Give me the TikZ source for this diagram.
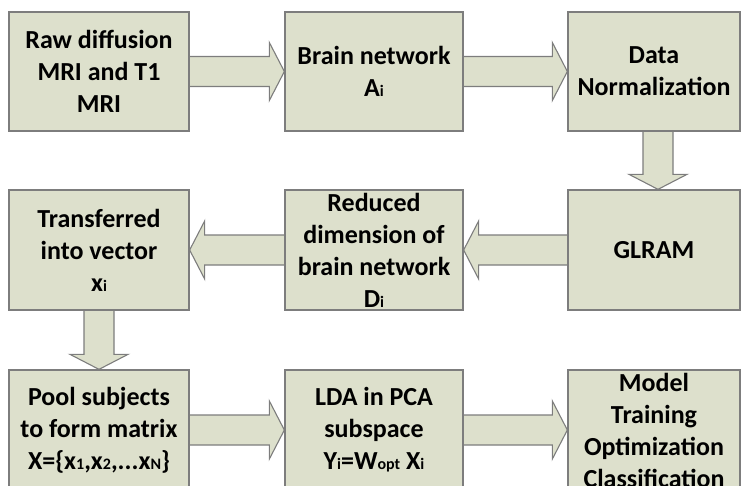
\documentclass[tikz,border=0pt]{standalone}
\usepackage{fontspec}
\setmainfont{Carlito}
\usetikzlibrary{calc,backgrounds}
\definecolor{sage}{RGB}{221,224,204}
\definecolor{edge}{RGB}{125,125,125}
\newcommand\idx[1]{{\fontsize{16}{16}\selectfont #1}}
\tikzset{
  box/.style={draw=edge,fill=sage,line width=1.3pt,inner sep=0pt,
    minimum width=#1,minimum height=119pt,align=center,
    font=\bfseries\fontsize{26}{32}\selectfont},
  box/.default=179pt,
  % outlined block arrow from start to target
  blockarrow/.style={draw=edge,fill=sage,line width=1.1pt,line join=miter,
    to path={
      ($(\tikztostart)!15pt!90:(\tikztotarget)$)
      -- ($($(\tikztotarget)!15pt!(\tikztostart)$)!15pt!-90:(\tikztostart)$)
      -- ($($(\tikztotarget)!15pt!(\tikztostart)$)!29pt!-90:(\tikztostart)$)
      -- (\tikztotarget)
      -- ($($(\tikztotarget)!15pt!(\tikztostart)$)!29pt!90:(\tikztostart)$)
      -- ($($(\tikztotarget)!15pt!(\tikztostart)$)!15pt!90:(\tikztostart)$)
      -- ($(\tikztostart)!15pt!-90:(\tikztotarget)$)
    }},
}
\begin{document}
\begin{tikzpicture}[x=1pt,y=-1pt]
  \useasboundingbox (0,0) rectangle (741,485);
  % first row
  \node[box=180pt] (raw) at (99,71.5) {Raw diffusion\\MRI and T1\\MRI};
  \node[box=178pt] (net) at (374,71.5) {Brain network\\A\idx{i}};
  \node[box=172pt] (norm) at (654,71.5) {Data\\Normalization};
  % second row
  \node[box=180pt,minimum height=120pt] (vec) at (99,250) {Transferred\\into vector\\x\idx{i}};
  \node[box=178pt,minimum height=120pt] (red) at (374,250) {Reduced\\dimension of\\brain network\\D\idx{i}};
  \node[box=172pt,minimum height=120pt] (glram) at (654,250) {GLRAM};
  % third row
  \node[box=180pt,minimum height=120pt] (pool) at (99,430) {Pool subjects\\to form matrix\\X=\{x\idx{1},x\idx{2},...x\idx{N}\}};
  \node[box=178pt,minimum height=120pt] (lda) at (374,430) {LDA in PCA\\subspace\\Y\idx{i}=W\idx{opt} X\idx{i}};
  \node[box=172pt,minimum height=120pt] (model) at (654,430) {Model\\Training\\Optimization\\Classification};
  \begin{scope}[on background layer]
    \draw[blockarrow] (raw.east) to (net.west);
    \draw[blockarrow] (net.east) to (norm.west);
    \draw[blockarrow] ([xshift=4pt]norm.south) to ([xshift=4pt]glram.north);
    \draw[blockarrow] (glram.west) to (red.east);
    \draw[blockarrow] (red.west) to (vec.east);
    \draw[blockarrow] (vec.south) to (pool.north);
    \draw[blockarrow] (pool.east) to (lda.west);
    \draw[blockarrow] (lda.east) to (model.west);
  \end{scope}
\end{tikzpicture}
\end{document}
